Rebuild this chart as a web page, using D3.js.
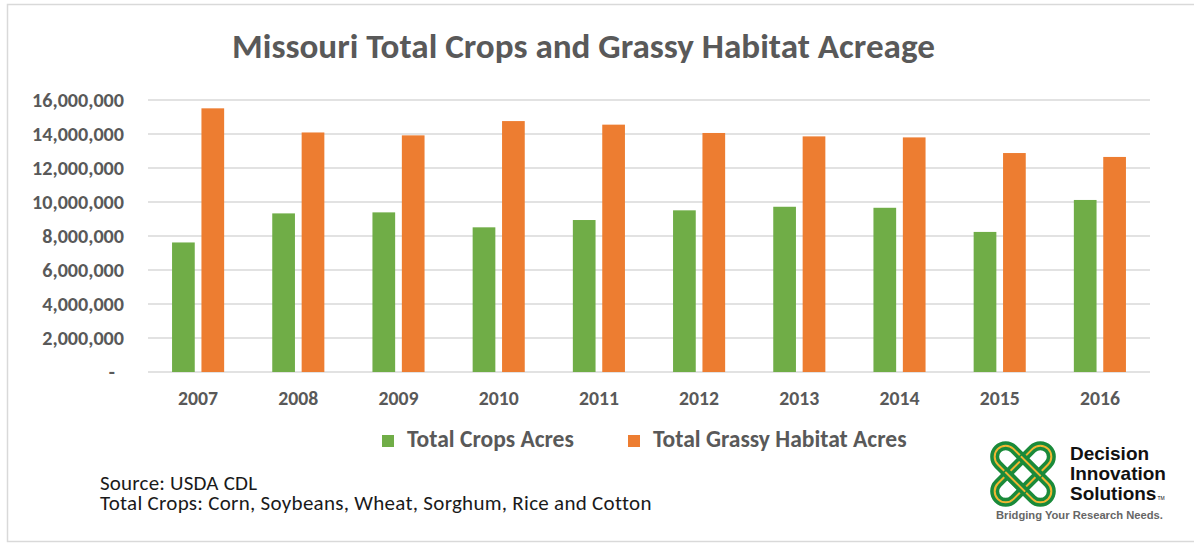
<!DOCTYPE html>
<html>
<head>
<meta charset="utf-8">
<script src="https://cdn.jsdelivr.net/npm/d3@7"></script>
<style>
  html, body { margin: 0; padding: 0; background: #fff; }
  svg { display: block; }
</style>
</head>
<body>
<svg id="chart" width="1194" height="544"></svg>
<script>
// Missouri acreage by year (acres)
const years = ["2007", "2008", "2009", "2010", "2011", "2012", "2013", "2014", "2015", "2016"];
const cropsAcres = [7620000, 9330000, 9390000, 8510000, 8940000, 9510000, 9720000, 9660000, 8240000, 10120000];
const grassyAcres = [15510000, 14090000, 13920000, 14760000, 14550000, 14060000, 13860000, 13800000, 12880000, 12650000];
const seriesNames = ["Total Crops Acres", "Total Grassy Habitat Acres"];
const seriesColors = ["#70AD47", "#ED7D31"];
const yTickValues = [0, 2000000, 4000000, 6000000, 8000000, 10000000, 12000000, 14000000, 16000000];
const titleText = "Missouri Total Crops and Grassy Habitat Acreage";
const noteLines = ["Source: USDA CDL", "Total Crops: Corn, Soybeans, Wheat, Sorghum, Rice and Cotton"];

const FONT = "Carlito, Calibri, Lato, 'Open Sans', sans-serif";
const LOGO_FONT = "'Liberation Sans', Arial, sans-serif";
const TEXT_GREY = "#595959";

const svg = d3.select("#chart");

// scale a text element's font size so it spans the given width
function fitWidth(sel, target) {
  const w = sel.node().getComputedTextLength();
  const fs = parseFloat(sel.attr("font-size"));
  const nfs = fs * target / w;
  sel.attr("font-size", nfs);
  return nfs;
}
function fontFor(str, weight, family, target) {
  const t = svg.append("text").attr("font-family", family).attr("font-weight", weight)
    .attr("font-size", 20).text(str);
  const fs = fitWidth(t, target);
  t.remove();
  return fs;
}
// widen a text by letter spacing until it spans the given width
function spreadTo(sel, target) {
  const w = sel.node().getComputedTextLength();
  const n = Math.max(1, sel.text().length - 1);
  sel.attr("letter-spacing", Math.max(0, (target - w) / n));
}

// outer frame
svg.append("rect").attr("x", 7.5).attr("y", 4.5).attr("width", 1200).attr("height", 537)
  .attr("fill", "#fff").attr("stroke", "#d9d9d9").attr("stroke-width", 1.5);

// title
const title = svg.append("text")
  .attr("x", 583.5).attr("y", 58).attr("text-anchor", "middle")
  .attr("font-family", FONT).attr("font-weight", 700).attr("font-size", 34)
  .attr("fill", TEXT_GREY).text(titleText);
fitWidth(title, 703);

// plot area
const plot = { left: 148, right: 1150, top: 100, bottom: 372 };

const y = d3.scaleLinear().domain([0, 16000000]).range([plot.bottom, plot.top]);
const x0 = d3.scaleBand().domain(years).range([plot.left, plot.right]).padding(0);
const x1 = d3.scaleBand().domain(seriesNames).range([0, x0.bandwidth()])
  .paddingInner(0.228).paddingOuter(0.818);

// gridlines
svg.append("g").selectAll("line").data(yTickValues).join("line")
  .attr("x1", plot.left).attr("x2", plot.right)
  .attr("y1", d => y(d)).attr("y2", d => y(d))
  .attr("stroke", "#d9d9d9").attr("stroke-width", 1.5);

// bars
const rows = years.map((yr, i) => ({ year: yr, values: [cropsAcres[i], grassyAcres[i]] }));
svg.append("g").selectAll("g").data(rows).join("g")
  .attr("transform", d => `translate(${x0(d.year)},0)`)
  .selectAll("rect").data(d => d.values.map((v, j) => ({ key: seriesNames[j], v, j })))
  .join("rect")
  .attr("x", d => x1(d.key)).attr("width", x1.bandwidth())
  .attr("y", d => y(d.v)).attr("height", d => y(0) - y(d.v))
  .attr("fill", d => seriesColors[d.j]);

// y axis labels
const yFs = fontFor("16,000,000", 700, FONT, 92);
const yAxis = svg.append("g").attr("transform", `translate(124,0)`)
  .call(d3.axisLeft(y).tickValues(yTickValues).tickSize(0).tickPadding(0)
    .tickFormat(d => d === 0 ? "-" : d3.format(",")(d)));
yAxis.select(".domain").remove();
yAxis.selectAll("text")
  .attr("font-family", FONT).attr("font-weight", 700).attr("font-size", yFs)
  .attr("fill", TEXT_GREY)
  .attr("dx", d => d === 0 ? -9 : 0);

// x axis labels
const xFs = fontFor("2007", 700, FONT, 40);
const xAxis = svg.append("g").attr("transform", `translate(0,${plot.bottom})`)
  .call(d3.axisBottom(x0).tickSize(0).tickPadding(0));
xAxis.select(".domain").remove();
xAxis.selectAll("text")
  .attr("y", 33).attr("dy", 0)
  .attr("font-family", FONT).attr("font-weight", 700).attr("font-size", xFs)
  .attr("fill", TEXT_GREY);

// legend
const legendItems = [
  { name: seriesNames[0], color: seriesColors[0], sx: 382, tx: 407 },
  { name: seriesNames[1], color: seriesColors[1], sx: 628, tx: 653 }
];
const legFs = fontFor(seriesNames[0], 700, FONT, 167);
const leg = svg.append("g");
legendItems.forEach(it => {
  leg.append("rect").attr("x", it.sx).attr("y", 435).attr("width", 12).attr("height", 12)
    .attr("fill", it.color);
  leg.append("text").attr("x", it.tx).attr("y", 447)
    .attr("font-family", FONT).attr("font-weight", 700).attr("font-size", legFs)
    .attr("fill", TEXT_GREY).text(it.name);
});

// source notes
const notes = svg.append("g").selectAll("text").data(noteLines).join("text")
  .attr("x", 100).attr("y", (d, i) => 490 + i * 20)
  .attr("font-family", FONT).attr("font-size", 21).attr("fill", "#1a1a1a")
  .text(d => d);
notes.each(function (d, i) { spreadTo(d3.select(this), i === 0 ? 157 : 551); });

// company logo: interlaced knot + wordmark
const logo = svg.append("g");
const knot = logo.append("g").attr("transform", "translate(1023,474)");
const loopLen = 71, loopW = 22;
function loop(g, clip) {
  const green = g.append("rect").attr("x", -loopLen / 2).attr("y", -loopW / 2)
    .attr("width", loopLen).attr("height", loopW).attr("rx", loopW / 2)
    .attr("fill", "none").attr("stroke", "#1a8a3a").attr("stroke-width", 9);
  const gold = g.append("rect").attr("x", -loopLen / 2).attr("y", -loopW / 2)
    .attr("width", loopLen).attr("height", loopW).attr("rx", loopW / 2)
    .attr("fill", "none").attr("stroke", "#f2b632").attr("stroke-width", 2);
  if (clip) { green.attr("clip-path", clip); gold.attr("clip-path", clip); }
}
[45, -45].forEach(a => loop(knot.append("g").attr("transform", `rotate(${a})`)));
// re-draw one crossing of the first loop on top for the woven look
svg.append("defs").append("clipPath").attr("id", "knotClip")
  .append("rect").attr("x", -14).attr("y", -18).attr("width", 28).attr("height", 36);
loop(knot.append("g").attr("transform", "rotate(45)"), "url(#knotClip)");

const logoWords = ["Decision", "Innovation", "Solutions"];
const logoFs = fontFor("Innovation", 700, LOGO_FONT, 96);
const words = logo.selectAll("text.word").data(logoWords).join("text").attr("class", "word")
  .attr("x", 1070).attr("y", (d, i) => 460 + i * 20)
  .attr("font-family", LOGO_FONT).attr("font-weight", 700).attr("font-size", logoFs)
  .attr("fill", "#111").text(d => d);
const solW = words.filter(d => d === "Solutions").node().getComputedTextLength();
logo.append("text").attr("x", 1070 + solW + 1).attr("y", 500)
  .attr("font-family", LOGO_FONT).attr("font-size", 5).attr("fill", "#111").text("TM");
const tag = logo.append("text").attr("x", 996).attr("y", 519)
  .attr("font-family", LOGO_FONT).attr("font-weight", 700).attr("font-size", 10)
  .attr("fill", "#666").text("Bridging Your Research Needs.");
fitWidth(tag, 167);
</script>
</body>
</html>
